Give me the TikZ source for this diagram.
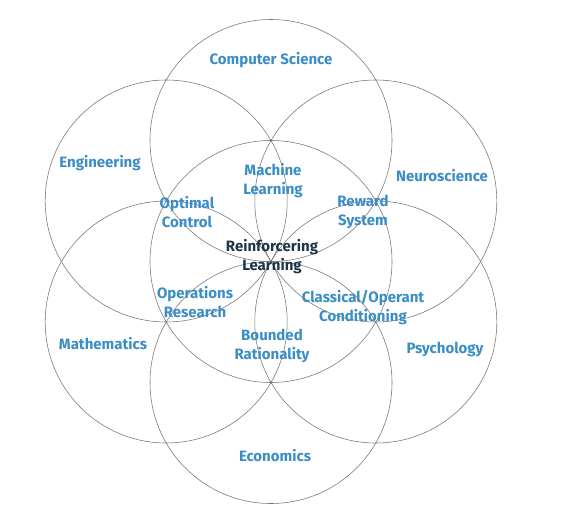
\documentclass[tikz,border=0pt]{standalone}
\usepackage{fontspec}
\setmainfont{Fira Sans}
\definecolor{fieldblue}{HTML}{3A8DC5}
\definecolor{coredark}{HTML}{1D3545}

\begin{document}
\begin{tikzpicture}[x=1pt,y=-1pt,
  ring/.style={circle,draw=black!55,line width=0.55pt,minimum size=242pt,inner sep=0pt},
  field/.style={text=fieldblue,font=\fontsize{15}{19}\selectfont\bfseries,align=center,inner sep=0pt},
  core/.style={field,text=coredark}]
  \useasboundingbox (0,0) rectangle (573,524);
  % seven circles
  \node[ring] (mid) at (271,261.5) {};
  \node[ring] (top) at (271,140.5) {};
  \node[ring] (bot) at (271,382.5) {};
  \node[ring] (ul) at (166.2,201) {};
  \node[ring] (ur) at (375.8,201) {};
  \node[ring] (ll) at (166.2,322) {};
  \node[ring] (lr) at (375.8,322) {};
  % outer fields
  \node[field] (cs) at (271,60) {Computer Science};
  \node[field] (eng) at (100,163) {Engineering};
  \node[field] (neuro) at (442,176) {Neuroscience};
  \node[field] (math) at (103,344) {Mathematics};
  \node[field] (psy) at (445,349) {Psychology};
  \node[field] (eco) at (275,456) {Economics};
  % overlaps
  \node[field] (ml) at (273,181) {Machine\\Learning};
  \node[field] (oc) at (187,212) {Optimal\\Control};
  \node[field] (rs) at (363,212) {Reward\\System};
  \node[field] (or) at (195,302) {Operations\\Research};
  \node[field] (cond) at (363,308) {Classical/Operant\\Conditioning};
  \node[field] (br) at (272,346) {Bounded\\Rationality};
  \node[core] (rl) at (272,257) {Reinforcering\\Learning};
\end{tikzpicture}
\end{document}
